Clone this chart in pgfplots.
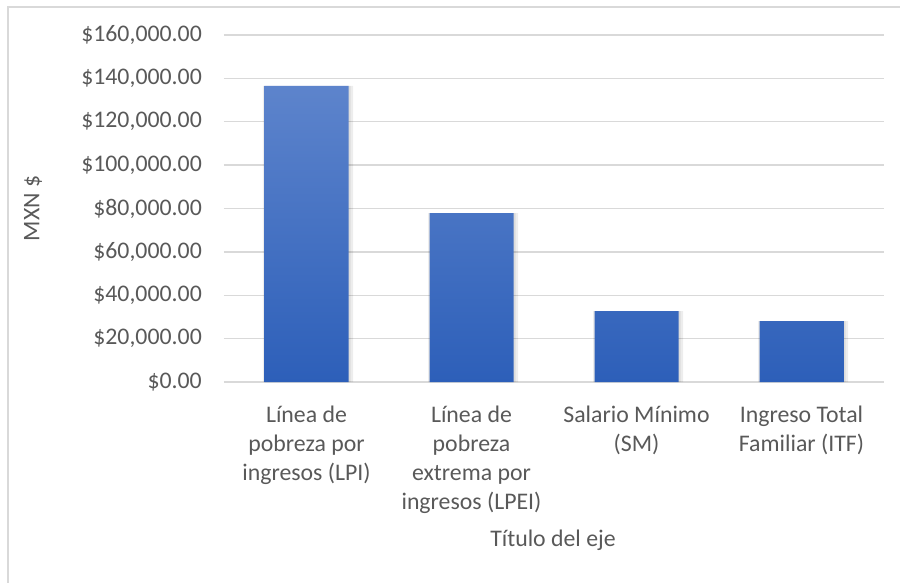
\documentclass[border=0pt]{standalone}
\usepackage{pgfplots}
\pgfplotsset{compat=1.18}
\usepackage{fontspec}
\setmainfont{Carlito}
\definecolor{txt}{RGB}{89,89,89}
\definecolor{gridc}{RGB}{217,217,217}
\definecolor{bartop}{RGB}{93,132,204}
\definecolor{barbot}{RGB}{45,95,185}
\begin{document}
\begin{tikzpicture}[x=1pt,y=1pt]
\path[use as bounding box] (0,0) rectangle (900,582);
\draw[gridc, line width=1.3pt] (8,-20) -- (8,575) -- (920,575);
\begin{axis}[
  at={(224pt,200pt)}, anchor=south west,
  scale only axis, width=660pt, height=347pt,
  xmin=-0.5, xmax=3.5, ymin=0, ymax=160000,
  scaled y ticks=false,
  axis line style={draw=none},
  major tick length=0pt,
  ymajorgrids, grid style={gridc, line width=1.3pt},
  ytick={0,20000,40000,60000,80000,100000,120000,140000,160000},
  yticklabels={{\$0.00},{\$20,000.00},{\$40,000.00},{\$60,000.00},{\$80,000.00},{\$100,000.00},{\$120,000.00},{\$140,000.00},{\$160,000.00}},
  yticklabel style={anchor=east, inner sep=0pt, xshift=-22pt, text=txt, font=\fontsize{23.8}{28}\selectfont},
  xtick={0,1,2,3},
  xticklabels={{Línea de\\pobreza por\\ingresos (LPI)},{Línea de\\pobreza\\extrema por\\ingresos (LPEI)},{Salario Mínimo\\(SM)},{Ingreso Total\\Familiar (ITF)}},
  xticklabel style={anchor=north, inner sep=0pt, yshift=-24pt, align=center, text=txt, font=\fontsize{23.8}{28.8}\selectfont},
  xlabel={Título del eje},
  xlabel style={at={(axis description cs:0.4985,-0.455)}, anchor=center, text=txt, font=\fontsize{23.8}{28}\selectfont},
  ylabel={MXN \$},
  ylabel style={at={(axis description cs:-0.2894,0.5)}, anchor=center, text=txt, font=\fontsize{23.8}{28}\selectfont},
  clip=false,
]
\addplot[ybar, bar width=90pt, draw=none, fill=black, opacity=0.07, bar shift=1.5pt] coordinates {(0,136500) (1,77900) (2,32700) (3,28100)};
\addplot[ybar, bar width=86pt, draw=none, fill=black, opacity=0.07, bar shift=1pt] coordinates {(0,136500) (1,77900) (2,32700) (3,28100)};
\addplot[ybar, bar width=84pt, draw=none, top color=bartop, bottom color=barbot, bar shift=0pt] coordinates {(0,136500) (1,77900) (2,32700) (3,28100)};
\end{axis}
\end{tikzpicture}
\end{document}
